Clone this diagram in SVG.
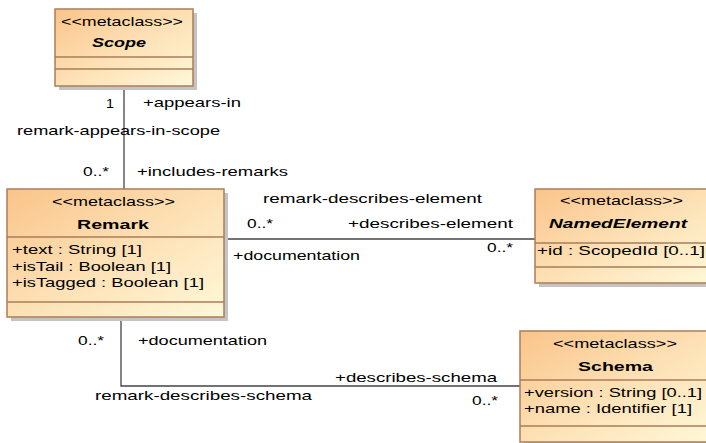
<svg xmlns="http://www.w3.org/2000/svg" width="706" height="443" viewBox="0 0 706 443">
<defs>
<linearGradient id="fill" x1="0" y1="0" x2="1" y2="1">
<stop offset="0" stop-color="#fac48a"/>
<stop offset="0.5" stop-color="#fde0b4"/>
<stop offset="1" stop-color="#fff8d8"/>
</linearGradient>
<style>
.shadow{fill:#c4c4c4;}
.box{fill:url(#fill);stroke:#a97e5a;stroke-width:1.5;}
.div{stroke:#a97e5a;stroke-width:1.5;fill:none;}
.conn{stroke:#444;stroke-width:1.3;fill:none;}
text{font-family:"Liberation Sans",Arial,sans-serif;font-size:13px;fill:#000;}
.b{font-weight:bold;}
.bi{font-weight:bold;font-style:italic;}
</style>
</defs>
<g id="connectors">
<path class="conn" d="M124,86 V189"/>
<path class="conn" d="M224,239 H535"/>
<path class="conn" d="M121,317 V386 H520"/>
<text x="106" y="108" textLength="8" lengthAdjust="spacingAndGlyphs">1</text>
<text x="143" y="107" textLength="98" lengthAdjust="spacingAndGlyphs">+appears-in</text>
<text x="17" y="135" textLength="203" lengthAdjust="spacingAndGlyphs">remark-appears-in-scope</text>
<text x="83" y="176" textLength="26" lengthAdjust="spacingAndGlyphs">0..*</text>
<text x="137" y="176" textLength="151" lengthAdjust="spacingAndGlyphs">+includes-remarks</text>
<text x="263" y="203" textLength="219" lengthAdjust="spacingAndGlyphs">remark-describes-element</text>
<text x="247" y="228" textLength="26" lengthAdjust="spacingAndGlyphs">0..*</text>
<text x="348" y="228" textLength="165" lengthAdjust="spacingAndGlyphs">+describes-element</text>
<text x="233" y="260" textLength="127" lengthAdjust="spacingAndGlyphs">+documentation</text>
<text x="487" y="252" textLength="26" lengthAdjust="spacingAndGlyphs">0..*</text>
<text x="78" y="345" textLength="26" lengthAdjust="spacingAndGlyphs">0..*</text>
<text x="138" y="345" textLength="129" lengthAdjust="spacingAndGlyphs">+documentation</text>
<text x="335" y="382" textLength="162" lengthAdjust="spacingAndGlyphs">+describes-schema</text>
<text x="95" y="400" textLength="217" lengthAdjust="spacingAndGlyphs">remark-describes-schema</text>
<text x="472" y="405" textLength="26" lengthAdjust="spacingAndGlyphs">0..*</text>
</g>
<g id="scope">
<rect class="shadow" x="59" y="13" width="138" height="77"/>
<rect class="box" x="55" y="9" width="138" height="77"/>
<path class="div" d="M55,57 H193 M55,69 H193"/>
<text x="61" y="26" textLength="122" lengthAdjust="spacingAndGlyphs">&lt;&lt;metaclass&gt;&gt;</text>
<text class="bi" x="92" y="47" textLength="54" lengthAdjust="spacingAndGlyphs">Scope</text>
</g>
<g id="remark">
<rect class="shadow" x="11" y="193" width="217" height="128"/>
<rect class="box" x="7" y="189" width="217" height="128"/>
<path class="div" d="M7,237 H224 M7,302 H224"/>
<text x="52" y="206" textLength="123" lengthAdjust="spacingAndGlyphs">&lt;&lt;metaclass&gt;&gt;</text>
<text class="b" x="77" y="229" textLength="72" lengthAdjust="spacingAndGlyphs">Remark</text>
<text x="12" y="254" textLength="130" lengthAdjust="spacingAndGlyphs">+text : String [1]</text>
<text x="12" y="271" textLength="159" lengthAdjust="spacingAndGlyphs">+isTail : Boolean [1]</text>
<text x="12" y="287" textLength="192" lengthAdjust="spacingAndGlyphs">+isTagged : Boolean [1]</text>
</g>
<g id="namedelement">
<rect class="shadow" x="539" y="193" width="177" height="94"/>
<rect class="box" x="535" y="189" width="177" height="94"/>
<path class="div" d="M535,243 H712 M535,267 H712"/>
<text x="560" y="205" textLength="123" lengthAdjust="spacingAndGlyphs">&lt;&lt;metaclass&gt;&gt;</text>
<text class="bi" x="549" y="228" textLength="138" lengthAdjust="spacingAndGlyphs">NamedElement</text>
<text x="537" y="255" textLength="168" lengthAdjust="spacingAndGlyphs">+id : ScopedId [0..1]</text>
</g>
<g id="schema">
<rect class="shadow" x="524" y="335" width="192" height="111"/>
<rect class="box" x="520" y="331" width="192" height="111"/>
<path class="div" d="M520,380 H712 M520,426 H712"/>
<text x="553" y="348" textLength="124" lengthAdjust="spacingAndGlyphs">&lt;&lt;metaclass&gt;&gt;</text>
<text class="b" x="578" y="371" textLength="75" lengthAdjust="spacingAndGlyphs">Schema</text>
<text x="524" y="397" textLength="178" lengthAdjust="spacingAndGlyphs">+version : String [0..1]</text>
<text x="524" y="413" textLength="168" lengthAdjust="spacingAndGlyphs">+name : Identifier [1]</text>
</g>
</svg>
